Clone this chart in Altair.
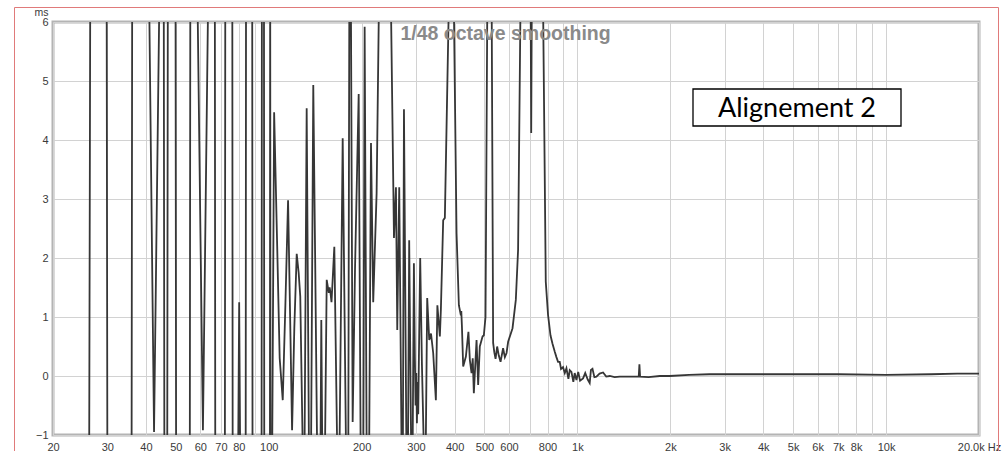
import altair as alt
import pandas as pd

# ---- group delay readings (Hz, ms); values beyond -1..6 are off-scale estimates ----
wrap_freq = [20, 26.2, 26.4, 29.85, 30.0, 35.95, 36.1, 41.0, 42.5, 44.2, 45.7, 45.9, 46.9, 47.1,
             49.9, 50.1, 55.5, 55.7, 58.8, 61.2, 63.6, 66.9, 67.1, 72.1, 72.3, 76.2, 76.4,
             79.6, 80.2, 80.8, 84.2, 84.4, 88.4, 88.6, 94.8, 95.0, 96.5, 96.7, 100.9, 101.1, 101.3]
wrap_ms = [-1.3, -1.3, 6.3, 6.3, -1.3, -1.3, 6.3, 6.3, -0.95, 6.3, 6.3, -1.3, -1.3, 6.3,
           6.3, -1.3, -1.3, 6.3, 6.3, -0.92, 6.3, 6.3, -1.3, -1.3, 6.3, 6.3, -1.3,
           -1.3, 1.25, -1.3, -1.3, 6.3, 6.3, -1.3, -1.3, 6.3, 6.3, -1.3, -1.3, 6.3, -1.3]

low_freq = [102.6, 104.1, 106.5, 108.5, 111.0, 113.2, 115.5, 117.3, 119.0, 121.0, 123.2, 125.0,
            126.5, 128.9, 130.6, 132.7, 135.0, 137.1, 139.4, 141.5, 143.5, 147.1, 148.0, 149.1,
            152.1, 154.1, 156.5, 157.5, 158.5, 159.7, 163.1, 166.7, 169.5, 173.6, 178.0, 181.0,
            182.4, 184.6, 187.0, 190.3, 195.6, 198.5, 202.5, 204.5, 207.6, 211.5, 214.4, 218.0,
            223.6, 227.5]
low_ms = [-1.3, 4.47, 2.2, 0.3, -0.41, 1.2, 2.98, 1.0, -0.92, 0.8, 2.07, 1.75,
          1.35, -1.3, -1.3, 4.54, -1.3, -1.3, 4.93, 1.8, -1.3, -1.3, 0.95, -1.3,
          -1.3, 1.63, 1.41, 1.5, 1.41, 1.25, 2.19, -1.3, -1.3, 4.03, -1.3, -1.3,
          6.3, 6.3, -0.78, 1.8, 4.78, -1.3, -1.3, 5.92, -1.3, -1.3, 3.95, 1.25,
          3.1, 6.3]

mid_freq = [248.8, 253.3, 254.5, 258.3, 260.8, 264.7, 269.4, 272.0, 274.2, 279.3, 282.5, 285.1,
            289.4, 292.5, 295.3, 297.5, 299.0, 300.5, 302.0, 303.5, 305.0, 306.5, 309.5, 313.5,
            318.2, 322.5, 326.1, 331.1, 335.5, 341.0, 347.9, 351.8, 358.4, 361.1, 367.4, 372.0,
            383.2]
mid_ms = [6.3, 3.19, 2.34, 3.2, 0.78, 3.2, -1.3, -1.3, 4.52, -1.3, -1.3, 2.3,
          -1.3, -1.3, 1.91, 0.3, -0.5, 0.05, -0.8, -0.1, -0.65, 0.3, 2.0, 0.2,
          -1.3, -1.3, 1.32, 0.61, 0.72, 0.39, -0.41, 1.2, 0.67, 1.12, 2.64, 2.68,
          6.3]

upper_freq = [397.8, 405.9, 413.0, 419.2, 420.5, 422.4, 426.5, 435.2, 443.5, 448.3, 454.0, 458.0,
              461.8, 471.2, 476.9, 482.8, 492.8, 497.6, 503.8, 510.6,
              527.5, 533.3, 538.0, 543.0, 549.5, 556.0, 563.6, 574.4, 582.0, 589.4, 596.4, 616.3,
              631.6, 642.4, 654.1, 705.5, 708.5, 711.5]
upper_ms = [6.3, 2.42, 1.2, 1.03, 1.1, 0.86, 0.16, 0.33, 0.75, 0.27, 0.05, 0.3,
            -0.29, 0.61, -0.15, 0.5, 0.67, 0.69, 1.0, 6.3,
            6.3, 0.56, 0.4, 0.29, 0.5, 0.35, 0.24, 0.47, 0.32, 0.39, 0.58, 0.81,
            1.29, 2.14, 6.3, 6.3, 4.12, 6.3]

high_freq = [774.0, 789.7, 803.4, 817.9, 830, 844.6, 855, 865.4, 876.4, 885, 898.3, 910, 921.4,
             935, 944.4, 956.4, 970, 980, 992.8, 1006, 1020, 1043, 1060, 1080, 1096, 1106, 1119,
             1135, 1152, 1180, 1211, 1240, 1273, 1320, 1371, 1450, 1540, 1580, 1588, 1596, 1700,
             1850, 1990, 2300, 2680, 3200, 3978, 5240, 7000, 10000, 14000, 17000, 20000]
high_ms = [6.3, 1.6, 1.03, 0.69, 0.55, 0.41, 0.32, 0.24, 0.24, 0.12, 0.15, 0.05, 0.13,
           -0.05, 0.1, 0.07, -0.1, 0.05, -0.07, 0.07, -0.08, -0.04, 0.05, -0.06, -0.12, 0.1, 0.12,
           -0.02, -0.01, 0.04, 0.06, -0.01, 0.0, -0.02, -0.01, -0.01, -0.01, -0.01, 0.2, -0.01, -0.02,
           0.0, 0.0, 0.02, 0.03, 0.03, 0.03, 0.03, 0.03, 0.02, 0.03, 0.04, 0.04]

# ---- axis ticks ----
grid_freqs = [20, 30, 40, 50, 60, 70, 80, 90, 100, 200, 300, 400, 500, 600, 700, 800, 900,
              1000, 2000, 3000, 4000, 5000, 6000, 7000, 8000, 9000, 10000, 20000]
tick_labels = ["20", "30", "40", "50", "60", "70", "80", "", "100", "200", "300", "400", "500",
               "600", "", "800", "", "1k", "2k", "3k", "4k", "5k", "6k", "7k", "8k", "", "10k",
               "20.0k Hz"]
y_ticks = [-1, 0, 1, 2, 3, 4, 5, 6]

freqs = wrap_freq + low_freq + mid_freq + upper_freq + high_freq
vals = wrap_ms + low_ms + mid_ms + upper_ms + high_ms
df = pd.DataFrame({"freq": freqs, "ms": vals, "order": list(range(len(freqs)))})

label_expr = "''"
for v, lab in reversed(list(zip(grid_freqs, tick_labels))):
    label_expr = f"datum.value == {v} ? '{lab}' : ({label_expr})"

FONT = "Liberation Sans"
one = pd.DataFrame({"a": [0]})

line = alt.Chart(df).mark_line(clip=True, color="#363636", strokeWidth=1.8).encode(
    x=alt.X("freq:Q",
            scale=alt.Scale(type="log", domain=[20, 20000], nice=False),
            axis=alt.Axis(values=grid_freqs, labelExpr=label_expr, title=None, grid=True,
                          gridColor="#d2d2d2", gridWidth=1, ticks=False, domain=False,
                          labelFlush=False, labelOverlap=False, labelPadding=6,
                          labelBaseline="top", labelFont=FONT, labelFontSize=11,
                          labelColor="#3a3a3a")),
    y=alt.Y("ms:Q",
            scale=alt.Scale(domain=[-1, 6], nice=False, zero=False),
            axis=alt.Axis(values=y_ticks, title="ms", titleAngle=0, titleX=-5, titleY=-7,
                          titleAlign="right", titleBaseline="alphabetic", titleFont=FONT,
                          titleFontSize=10.5, titleFontWeight="normal", titleColor="#3a3a3a",
                          grid=True, gridColor="#d2d2d2", gridWidth=1, ticks=False,
                          domain=False, labelPadding=5, labelFont=FONT, labelFontSize=11,
                          labelColor="#3a3a3a")),
    order="order:Q",
)

smooth_text = alt.Chart(one).mark_text(
    text="1/48 octave smoothing", font=FONT, fontSize=19.5, fontWeight="bold",
    color="#8a8a8a", align="center", baseline="alphabetic"
).encode(x=alt.value(452.5), y=alt.value(17.5))

box = alt.Chart(one).mark_rect(fill="white", stroke="black", strokeWidth=1.3).encode(
    x=alt.value(640), x2=alt.value(848), y=alt.value(67), y2=alt.value(104))

box_text = alt.Chart(one).mark_text(
    text="Alignement 2", font="Lato", fontSize=27, color="black",
    align="center", baseline="alphabetic"
).encode(x=alt.value(744), y=alt.value(94.5))

border = alt.Chart(one).mark_rect(filled=False, stroke="#e07a7a", strokeWidth=1).encode(
    x=alt.value(-38.5), x2=alt.value(945.5), y=alt.value(-14.5), y2=alt.value(445))

chart = alt.layer(line, smooth_text, box, box_text, border).properties(
    width=926, height=413,
    padding={"left": 53, "top": 22, "right": 27, "bottom": 16},
    autosize=alt.AutoSizeParams(type="none"),
    background="white",
).configure_view(stroke="#b4b4b4", strokeWidth=3)

chart.save("out.html", embed_options={"renderer": "svg", "actions": False})
